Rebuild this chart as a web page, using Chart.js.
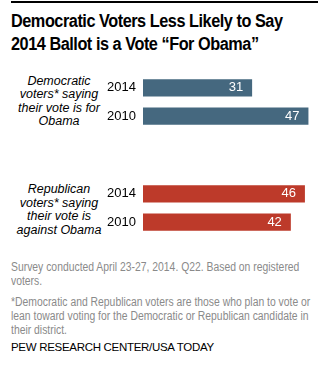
<!DOCTYPE html>
<html>
<head>
<meta charset="utf-8">
<script src="https://cdn.jsdelivr.net/npm/chart.js@4"></script>
<style>
  html, body { margin: 0; padding: 0; background: #fff; }
  body { width: 334px; height: 368px; position: relative; overflow: hidden; font-family: "Liberation Sans", Arial, sans-serif; }
  #rule { position: absolute; left: 11px; top: 1px; width: 307px; height: 2px; background: #000; }
  #title { position: absolute; left: 11px; top: 10px; font-weight: bold; font-size: 17.5px; line-height: 23px; color: #000; letter-spacing: -0.5px; white-space: nowrap; transform: scaleX(0.93); transform-origin: 0 0; }
  .group { position: absolute; left: 8px; width: 102px; text-align: center; font-style: italic; font-size: 12.5px; line-height: 13.6px; color: #000; }
  .wrap { position: absolute; left: 0; width: 334px; height: 86px; }
  .note { position: absolute; left: 11px; color: #8a8a8a; font-size: 12.5px; line-height: 14px; white-space: nowrap; transform: scaleX(0.83); transform-origin: 0 0; }
  #source { position: absolute; left: 11px; top: 341px; font-size: 11.5px; color: #000; letter-spacing: -0.3px; }
</style>
</head>
<body>
<div id="rule"></div>
<div id="title">Democratic Voters Less Likely to Say<br>2014 Ballot is a Vote “For Obama”</div>

<div class="group" style="top:74.5px">Democratic<br>voters* saying<br>their vote is for<br>Obama</div>
<div class="group" style="top:183px">Republican<br>voters* saying<br>their vote is<br>against Obama</div>

<div class="wrap" style="top:59px"><canvas id="c1" width="334" height="86"></canvas></div>
<div class="wrap" style="top:164.5px"><canvas id="c2" width="334" height="86"></canvas></div>

<div class="note" style="top:260px">Survey conducted April 23-27, 2014. Q22. Based on registered<br>voters.</div>
<div class="note" style="top:295px">*Democratic and Republican voters are those who plan to vote or<br>lean toward voting for the Democratic or Republican candidate in<br>their district.</div>
<div id="source">PEW RESEARCH CENTER/USA TODAY</div>

<script>
const years = ["2014", "2010"];
const demValues = [31, 47];
const repValues = [46, 42];
const demColor = "#45687f";
const repColor = "#bd3a2a";
const axisMax = 50;

const valueLabels = {
  id: "valueLabels",
  afterDatasetsDraw(chart) {
    const ctx = chart.ctx;
    const meta = chart.getDatasetMeta(0);
    ctx.save();
    ctx.fillStyle = "#fff";
    ctx.font = '13px "Liberation Sans", Arial, sans-serif';
    ctx.textAlign = "right";
    ctx.textBaseline = "middle";
    meta.data.forEach((bar, i) => {
      ctx.fillText(String(chart.data.datasets[0].data[i]), bar.x - 9, bar.y);
    });
    ctx.restore();
  }
};

function makeChart(id, values, color) {
  new Chart(document.getElementById(id), {
    type: "bar",
    data: {
      labels: years,
      datasets: [{ data: values, backgroundColor: color, borderWidth: 0, barPercentage: 26 / 43, categoryPercentage: 1 }]
    },
    options: {
      indexAxis: "y",
      responsive: false,
      animation: false,
      layout: { padding: { left: 0, right: 15, top: 0, bottom: 0 } },
      plugins: { legend: { display: false }, tooltip: { enabled: false } },
      scales: {
        x: { display: false, min: 0, max: axisMax },
        y: {
          grid: { display: false, drawTicks: false },
          border: { display: false },
          ticks: { color: "#000", padding: 7, font: { size: 13, family: '"Liberation Sans", Arial, sans-serif' } },
          afterFit(scale) { scale.width = 143; }
        }
      }
    },
    plugins: [valueLabels]
  });
}

makeChart("c1", demValues, demColor);
makeChart("c2", repValues, repColor);
</script>
</body>
</html>
